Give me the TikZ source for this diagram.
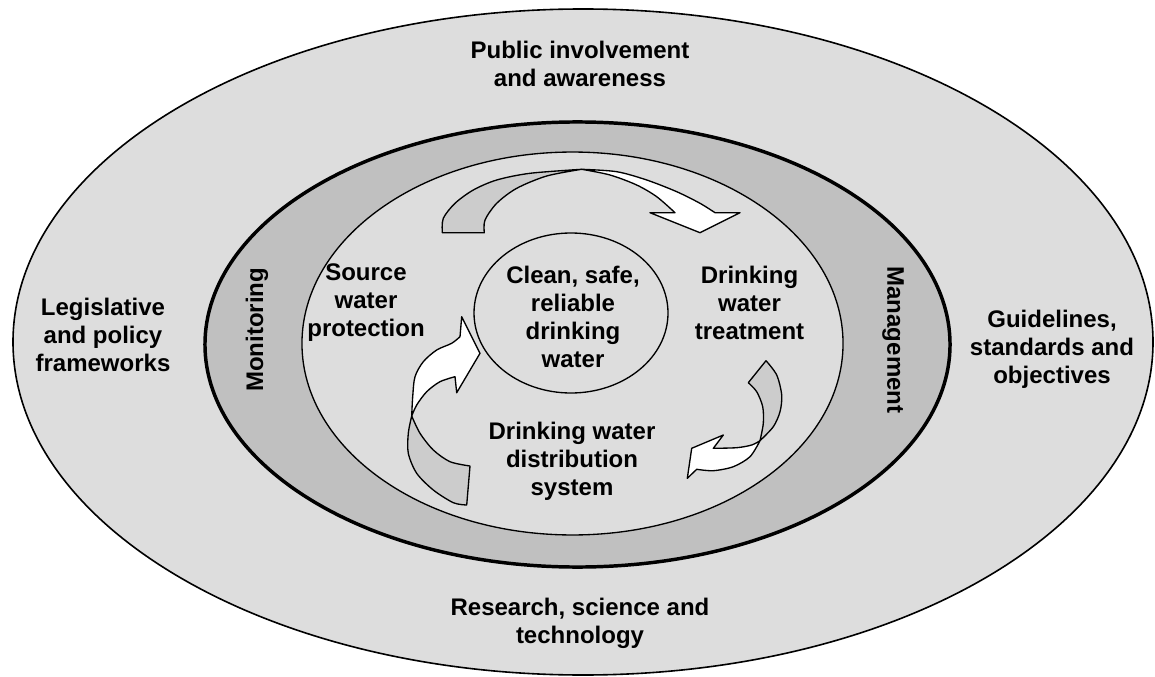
\documentclass[tikz,border=0pt]{standalone}
\usepackage{fontspec}
\setmainfont{Liberation Sans}
\definecolor{bgray}{HTML}{DDDDDD}
\definecolor{ringgray}{HTML}{C0C0C0}
\definecolor{arrgray}{HTML}{CCCCCC}
\begin{document}
\begin{tikzpicture}[x=0.75pt,y=-0.75pt,
  txt/.style={font=\bfseries\fontsize{18}{21}\selectfont, align=center, inner sep=0pt},
  band/.style={draw=black, line width=1pt, fill=arrgray, line join=round},
  front/.style={draw=black, line width=1pt, fill=white, line join=round}]
\useasboundingbox (0,0) rectangle (1155,677);
% ellipses
\draw[line width=1.2pt, fill=bgray] (583,342) ellipse [x radius=427.5pt, y radius=249.75pt];
\draw[line width=2.6pt, fill=ringgray] (577.5,344.5) ellipse [x radius=279.4pt, y radius=166.9pt];
\draw[line width=1pt, fill=bgray] (572.5,343.5) ellipse [x radius=202.9pt, y radius=143.6pt];
\draw[line width=1pt, fill=bgray] (571,313) ellipse [x radius=72.75pt, y radius=60pt];
% top arrow
\draw[band] plot[smooth] coordinates {(442.3,232.7)(443.3,218.3)(455,203.3)(473.3,190)(496.7,180)(530,173.3)(581.7,169.3)}
  -- plot[smooth] coordinates {(581.7,169.3)(546.7,176)(516.7,188.3)(496.7,203.3)(485,220)(484.3,232.7)} -- cycle;
\draw[front] plot[smooth] coordinates {(581.7,169.3)(616.7,171.7)(646.7,180)(676.7,191.7)(700,203.3)(715,212.7)}
  -- (740,212.7) -- (700,232.7) -- (650,212.7) -- (675,212.7)
  -- plot[smooth] coordinates {(675,212.7)(656.7,196.7)(636.7,185)(610,175)(581.7,169.3)} -- cycle;
% right arrow
\draw[band] (748.3,382.7) -- plot[smooth] coordinates {(766,360.7)(776.7,375)(781.7,395)(780,411.7)(773.3,426.7)(760,440.7)}
  -- plot[smooth] coordinates {(760,440.7)(763.3,423.3)(762.7,406.7)(756.7,391.7)(748.3,382.7)} -- cycle;
\draw[front] plot[smooth] coordinates {(760,440.7)(751.7,445)(736.7,447.7)(713.3,448.3)}
  -- (723.3,435) -- (691.7,448.3) -- (687.3,478.3) -- (696.7,469.3)
  -- plot[smooth] coordinates {(696.7,469.3)(713.3,470.7)(733.3,466.7)(750,456.7)(760,440.7)} -- cycle;
% left arrow
\draw[band] (470,466) -- (466.7,505) -- plot[smooth] coordinates {(466.7,505)(453.3,502.7)(433.3,490)(416.7,473.3)(408.3,453.3)(408.3,433.3)(411.7,416)}
  -- plot[smooth] coordinates {(411.7,416)(420,433.3)(433.3,450)(450,461.7)(470,466)} -- cycle;
\draw[front] plot[smooth] coordinates {(411.7,416)(412.7,396.7)(415,376.7)(423.3,361.7)(436.7,350)(451.7,343.3)(460,336.7)}
  -- (461.7,316.7) -- (480,353.3) -- (456.7,392.7) -- (455,376.7)
  -- plot[smooth] coordinates {(455,376.7)(440,381.7)(426.7,391.7)(416.7,405)(411.7,416)} -- cycle;
% texts
\node[txt] (public) at (580,63.7) {Public involvement\\and awareness};
\node[txt] (legis) at (103,335) {Legislative\\and policy\\frameworks};
\node[txt] (guide) at (1052,349.5) {Guidelines,\\standards and\\objectives};
\node[txt] (research) at (580,623) {Research, science and\\technology};
\node[txt, rotate=90] (monit) at (257,330) {Monitoring};
\node[txt, rotate=-90] (manag) at (893,340) {Management};
\node[txt] (source) at (366,303) {Source\\water\\protection};
\node[txt] (clean) at (573,317) {Clean, safe,\\reliable\\drinking\\water};
\node[txt] (treat) at (749.5,303) {Drinking\\water\\treatment};
\node[txt] (distr) at (572,461) {Drinking water\\distribution\\system};
\end{tikzpicture}
\end{document}
